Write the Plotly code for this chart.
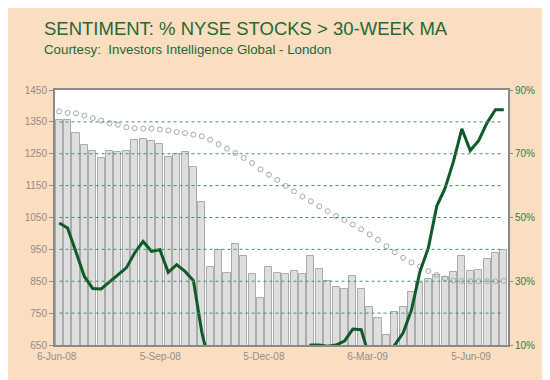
import plotly.graph_objects as go

# weekly index (6-Jun-08 onward)
weeks = list(range(54))

index_values = [1357, 1357, 1316, 1276, 1259, 1236, 1258, 1255, 1259, 1293,
                1295, 1290, 1280, 1240, 1248, 1254, 1210, 1098, 896, 948,
                875, 968, 928, 872, 799, 895, 875, 872, 882, 872,
                930, 888, 850, 831, 825, 867, 825, 769, 734, 682,
                755, 768, 816, 844, 856, 870, 863, 878, 930, 882,
                886, 919, 940, 947]

ma_values = [1383, 1378, 1377, 1370, 1362, 1354, 1346, 1341, 1333, 1330,
             1329, 1329, 1326, 1323, 1318, 1315, 1310, 1305, 1294, 1280,
             1266, 1252, 1237, 1221, 1201, 1184, 1168, 1149, 1132, 1116,
             1101, 1085, 1070, 1055, 1042, 1028, 1013, 997, 980, 960,
             941, 924, 909, 896, 882, 870, 859, 852, 851, 850,
             850, 850, 850, 851]

pct_above_ma = [48.3, 46.7, 39.2, 31.5, 27.7, 27.6, 29.8, 32.1, 34.2, 38.9,
                42.5, 39.4, 39.9, 32.8, 35.2, 33.1, 30.2, 14.0, 3.0, 2.0,
                1.0, 1.0, 1.0, 2.0, 2.0, 3.0, 3.0, 4.0, 5.0, 6.0,
                10.0, 10.0, 9.6, 10.0, 11.2, 15.0, 14.8, 6.0, 3.0, 4.0,
                10.0, 13.8, 21.0, 33.0, 40.4, 53.5, 59.2, 67.6, 77.8, 71.0,
                74.1, 79.7, 83.8, 83.8]

x_tick_pos = [-0.3, 12.05, 24.4, 36.75, 49.1]
x_tick_labels = ["6-Jun-08", "5-Sep-08", "5-Dec-08", "6-Mar-09", "5-Jun-09"]
left_ticks = [650, 750, 850, 950, 1050, 1150, 1250, 1350, 1450]
right_ticks = [10, 30, 50, 70, 90]

BG = "#FBDDBF"
GREEN = "#1E6A37"
FONT = "Liberation Sans, Arial, sans-serif"

fig = go.Figure()
fig.add_trace(go.Bar(
    x=weeks, y=index_values, width=0.84,
    marker=dict(color="#e6e6e6", line=dict(color="#ababab", width=1),
                pattern=dict(shape=".", fgcolor="#c4c4c4", bgcolor="#ededed",
                             size=2, solidity=0.35, fillmode="replace")),
    yaxis="y", showlegend=False))
fig.add_trace(go.Scatter(
    x=weeks, y=ma_values, mode="markers", yaxis="y",
    marker=dict(symbol="circle-open", size=5, color="#a8a8a8", line=dict(width=1)),
    showlegend=False))
fig.add_trace(go.Scatter(
    x=weeks, y=pct_above_ma, mode="lines", yaxis="y2",
    line=dict(color="#0E5A28", width=3), showlegend=False))

shapes = []
for v in left_ticks[1:-1]:
    shapes.append(dict(type="line", xref="x domain", x0=0.01, x1=0.99, yref="y",
                       y0=v, y1=v, layer="above",
                       line=dict(color="#3C9A5A", width=1, dash="dot")))

fig.update_layout(
    width=550, height=380,
    paper_bgcolor=BG, plot_bgcolor="white",
    margin=dict(l=47, r=50, t=82, b=43),
    font=dict(family=FONT, size=10),
    bargap=0,
    shapes=shapes,
    xaxis=dict(range=[-0.5, 53.5], tickvals=x_tick_pos, ticktext=x_tick_labels,
               showgrid=False, zeroline=False, ticks="outside", ticklen=1,
               tickcolor=BG, tickfont=dict(color="#8f8f8f", size=10),
               showline=True, linecolor="#8a8a8a", linewidth=2, mirror=True),
    yaxis=dict(range=[650, 1450], tickvals=left_ticks, showgrid=False,
               zeroline=False, ticks="outside", ticklen=4, tickcolor="#8a8a8a",
               tickfont=dict(color="#958b7f", size=10),
               showline=True, linecolor="#8a8a8a", linewidth=2, mirror=True),
    yaxis2=dict(range=[10, 90], tickvals=right_ticks,
                ticktext=[f"{t}%" for t in right_ticks], overlaying="y",
                side="right", showgrid=False, zeroline=False, ticks="outside",
                ticklen=4, tickcolor="#8a8a8a",
                tickfont=dict(color="#2E7D4A", size=10)),
    annotations=[
        dict(text="SENTIMENT: % NYSE STOCKS > 30-WEEK MA", xref="paper", yref="paper",
             x=-0.028, y=1.24, xanchor="left", yanchor="middle", showarrow=False,
             font=dict(size=18.5, color=GREEN, family=FONT)),
        dict(text="Courtesy:  Investors Intelligence Global - London", xref="paper",
             yref="paper", x=-0.028, y=1.16, xanchor="left", yanchor="middle",
             showarrow=False, font=dict(size=13.3, color=GREEN, family=FONT)),
    ],
)

fig.write_html("out.html")
